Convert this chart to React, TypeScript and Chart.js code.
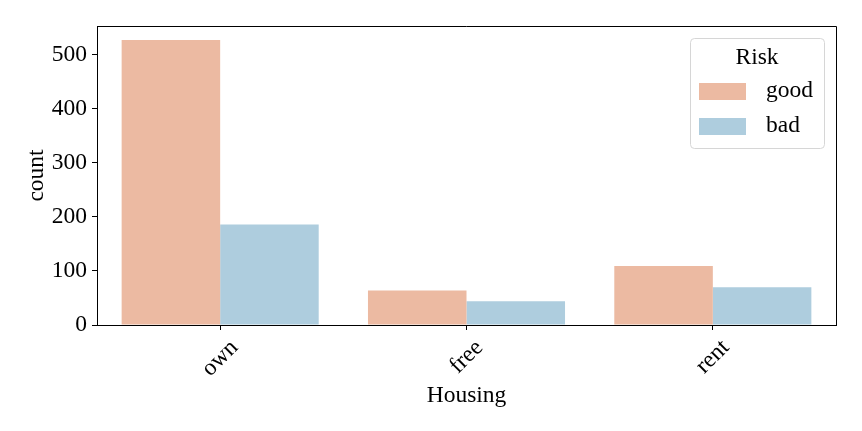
import React, { useEffect, useRef } from 'react';
import { Chart, registerables } from 'chart.js';

Chart.register(...registerables);

const categories = ['own', 'free', 'rent'];
const seriesNames = ['good', 'bad'];
const goodCounts = [527, 64, 109];
const badCounts = [186, 44, 70];
const yTicks = [0, 100, 200, 300, 400, 500];
const yMax = 553;
const legendTitle = 'Risk';
const xTitle = 'Housing';
const yTitle = 'count';
const seriesColors = ['rgb(236,186,162)', 'rgb(174,205,222)'];

const FONT = '"Liberation Serif", "DejaVu Serif", serif';
const FS = 23.5;

const framePlugin = {
  id: 'frame',
  afterDatasetsDraw(chart: any) {
    const { ctx, chartArea } = chart;
    ctx.save();
    ctx.strokeStyle = '#000';
    ctx.lineWidth = 1;
    ctx.beginPath();
    ctx.moveTo(chartArea.left, chartArea.top + 0.5);
    ctx.lineTo(chartArea.right + 0.5, chartArea.top + 0.5);
    ctx.lineTo(chartArea.right + 0.5, chartArea.bottom);
    ctx.stroke();
    ctx.restore();
  },
};

const xLabelPlugin = {
  id: 'rotatedXLabels',
  afterDraw(chart: any) {
    const { ctx, chartArea } = chart;
    const scale = chart.scales.x;
    const labels: string[] = chart.data.labels;
    ctx.save();
    ctx.font = `${FS}px ${FONT}`;
    ctx.fillStyle = '#000';
    ctx.textAlign = 'center';
    ctx.textBaseline = 'middle';
    const top = chartArea.bottom + 10;
    const h = FS * 1.1;
    labels.forEach((lab, i) => {
      const x = scale.getPixelForTick(i);
      const w = ctx.measureText(lab).width;
      const cy = top + (w + h) / (2 * Math.SQRT2);
      ctx.save();
      ctx.translate(x, cy);
      ctx.rotate(-Math.PI / 4);
      ctx.fillText(lab, 0, 0);
      ctx.restore();
    });
    ctx.restore();
  },
};

const legendPlugin = {
  id: 'customLegend',
  afterDraw(chart: any) {
    const { ctx, chartArea } = chart;
    const w = 134;
    const h = 110;
    const x = chartArea.right - 12 - w;
    const y = chartArea.top + 12;
    ctx.save();
    ctx.fillStyle = 'rgba(255,255,255,0.8)';
    ctx.strokeStyle = '#d6d6d6';
    ctx.lineWidth = 1;
    ctx.beginPath();
    (ctx as any).roundRect(x + 0.5, y + 0.5, w, h, 4);
    ctx.fill();
    ctx.stroke();
    ctx.fillStyle = '#000';
    ctx.font = `${FS}px ${FONT}`;
    ctx.textAlign = 'center';
    ctx.textBaseline = 'middle';
    ctx.fillText(legendTitle, x + w / 2, y + 20);
    chart.data.datasets.forEach((ds: any, i: number) => {
      const cy = y + 53 + i * 35;
      ctx.fillStyle = ds.backgroundColor;
      ctx.fillRect(x + 9, cy - 8, 47, 17);
      ctx.fillStyle = '#000';
      ctx.textAlign = 'left';
      ctx.fillText(ds.label, x + 76, cy);
    });
    ctx.restore();
  },
};

export default function App() {
  const canvasRef = useRef<HTMLCanvasElement | null>(null);

  useEffect(() => {
    if (!canvasRef.current) return;
    const chart = new Chart(canvasRef.current, {
      type: 'bar',
      data: {
        labels: categories,
        datasets: [
          { label: seriesNames[0], data: goodCounts, backgroundColor: seriesColors[0] },
          { label: seriesNames[1], data: badCounts, backgroundColor: seriesColors[1] },
        ],
      },
      options: {
        animation: false,
        responsive: true,
        maintainAspectRatio: false,
        layout: { padding: { top: 26, right: 26, left: 0, bottom: 0 } },
        datasets: { bar: { categoryPercentage: 0.8, barPercentage: 1.0 } },
        plugins: {
          legend: { display: false },
          tooltip: { enabled: false },
        },
        scales: {
          x: {
            grid: { display: true, offset: false, drawOnChartArea: false, drawTicks: true, tickLength: 5, color: '#000' },
            border: { display: true, color: '#000' },
            ticks: {
              display: false,
            },
            title: {
              display: true,
              text: xTitle,
              color: '#000',
              font: { family: FONT, size: FS },
              padding: { top: 0, bottom: 21 },
            },
            afterFit(scale: any) {
              scale.height = 106;
            },
          },
          y: {
            min: 0,
            max: yMax,
            grid: { display: true, drawOnChartArea: false, drawTicks: true, tickLength: 5, color: '#000' },
            border: { display: true, color: '#000' },
            ticks: {
              color: '#000',
              font: { family: FONT, size: FS },
              padding: 5,
            },
            afterBuildTicks(scale: any) {
              scale.ticks = yTicks.map((v) => ({ value: v }));
            },
            title: {
              display: true,
              text: yTitle,
              color: '#000',
              font: { family: FONT, size: FS },
              padding: { top: 23, bottom: 0 },
            },
            afterFit(scale: any) {
              scale.width = 97;
            },
          },
        },
      },
      plugins: [framePlugin, xLabelPlugin, legendPlugin],
    });
    return () => chart.destroy();
  }, []);

  return (
    <div style={{ position: 'absolute', left: 0, top: 0, width: 862, height: 431, background: '#fff' }}>
      <canvas ref={canvasRef} />
    </div>
  );
}
